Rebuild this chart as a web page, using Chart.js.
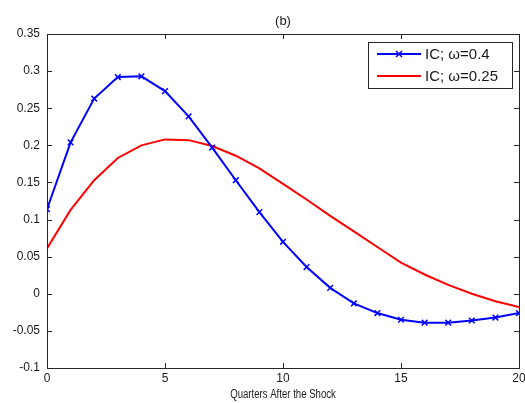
<!DOCTYPE html>
<html>
<head>
<meta charset="utf-8">
<script src="https://cdn.jsdelivr.net/npm/chart.js@4.4.1/dist/chart.umd.min.js"></script>
<style>
  html, body { margin: 0; padding: 0; background: #ffffff; }
  #wrap { width: 525px; height: 403px; position: relative; }
</style>
</head>
<body>
<div id="wrap"><canvas id="irf"></canvas></div>
<script>
  const quarters = [0, 1, 2, 3, 4, 5, 6, 7, 8, 9, 10, 11, 12, 13, 14, 15, 16, 17, 18, 19, 20];
  const icOmega04 = [0.114, 0.204, 0.263, 0.292, 0.293, 0.273, 0.239, 0.197, 0.153, 0.110, 0.070,
    0.036, 0.008, -0.013, -0.026, -0.035, -0.039, -0.039, -0.036, -0.032, -0.026];
  const icOmega025 = [0.061, 0.113, 0.153, 0.183, 0.200, 0.208, 0.207, 0.199, 0.186, 0.169, 0.148,
    0.127, 0.105, 0.084, 0.063, 0.042, 0.026, 0.012, 0.000, -0.010, -0.018];
  const seriesLabels = ["IC; \u03c9=0.4", "IC; \u03c9=0.25"];
  const xTicks = [0, 5, 10, 15, 20];
  const yTicks = [-0.1, -0.05, 0, 0.05, 0.1, 0.15, 0.2, 0.25, 0.3, 0.35];
  const panelTitle = "(b)";
  const xTitle = "Quarters After the Shock";

  const fontFamily = "Arial, 'Liberation Sans', sans-serif";

  // MATLAB-style box with inward ticks, title, x label and legend
  const boxPlugin = {
    id: "boxPlugin",
    afterDraw(chart) {
      const { ctx, chartArea: a, scales } = chart;
      const tick = 5;
      ctx.save();
      ctx.strokeStyle = "#262626";
      ctx.lineWidth = 1;
      ctx.strokeRect(a.left + 0.5, a.top + 0.5, a.right - a.left, a.bottom - a.top);
      ctx.beginPath();
      xTicks.forEach((v) => {
        const x = Math.round(scales.x.getPixelForValue(v)) + 0.5;
        ctx.moveTo(x, a.bottom); ctx.lineTo(x, a.bottom - tick);
        ctx.moveTo(x, a.top); ctx.lineTo(x, a.top + tick);
      });
      yTicks.forEach((v) => {
        const y = Math.round(scales.y.getPixelForValue(v)) + 0.5;
        ctx.moveTo(a.left, y); ctx.lineTo(a.left + tick, y);
        ctx.moveTo(a.right, y); ctx.lineTo(a.right - tick, y);
      });
      ctx.stroke();

      const cx = (a.left + a.right) / 2;
      ctx.fillStyle = "#1a1a1a";
      ctx.textAlign = "center";
      ctx.textBaseline = "middle";
      ctx.font = "13px " + fontFamily;
      ctx.fillText(panelTitle, cx, 21.5);

      // narrow x label
      ctx.save();
      ctx.translate(cx, 395);
      ctx.scale(0.8, 1);
      ctx.font = "12px " + fontFamily;
      ctx.fillText(xTitle, 0, 0);
      ctx.restore();

      // legend
      const lx = 368, ly = 42, lw = 144, lh = 46;
      ctx.fillStyle = "#ffffff";
      ctx.fillRect(lx, ly, lw, lh);
      ctx.strokeStyle = "#262626";
      ctx.lineWidth = 1;
      ctx.strokeRect(lx + 0.5, ly + 0.5, lw, lh);
      ctx.font = "15px " + fontFamily;
      ctx.textAlign = "left";
      chart.data.datasets.forEach((ds, i) => {
        const yy = ly + 12 + i * 22;
        ctx.strokeStyle = ds.borderColor;
        ctx.lineWidth = 2;
        ctx.beginPath();
        ctx.moveTo(lx + 9, yy); ctx.lineTo(lx + 53, yy);
        ctx.stroke();
        if (ds.pointRadius > 0) {
          const mx = lx + 31, r = 3;
          ctx.lineWidth = 1.5;
          ctx.beginPath();
          ctx.moveTo(mx - r, yy - r); ctx.lineTo(mx + r, yy + r);
          ctx.moveTo(mx - r, yy + r); ctx.lineTo(mx + r, yy - r);
          ctx.stroke();
        }
        ctx.fillStyle = "#1a1a1a";
        ctx.fillText(ds.label, lx + 57, yy + 1);
      });
      ctx.restore();
    }
  };

  new Chart(document.getElementById("irf"), {
    type: "line",
    data: {
      labels: quarters,
      datasets: [
        {
          label: seriesLabels[0],
          data: quarters.map((q, i) => ({ x: q, y: icOmega04[i] })),
          borderColor: "#0000ff",
          backgroundColor: "#0000ff",
          borderWidth: 2,
          pointStyle: "crossRot",
          pointRadius: 4,
          pointBorderWidth: 1.5,
          tension: 0
        },
        {
          label: seriesLabels[1],
          data: quarters.map((q, i) => ({ x: q, y: icOmega025[i] })),
          borderColor: "#ff0000",
          backgroundColor: "#ff0000",
          borderWidth: 2,
          pointRadius: 0,
          tension: 0
        }
      ]
    },
    options: {
      responsive: true,
      maintainAspectRatio: false,
      animation: false,
      layout: { padding: { left: 0, right: 0, top: 34, bottom: 0 } },
      plugins: {
        legend: { display: false },
        tooltip: { enabled: false },
        title: { display: false }
      },
      scales: {
        x: {
          type: "linear",
          min: 0,
          max: 20,
          afterBuildTicks(scale) {
            scale.ticks = xTicks.map((v) => ({ value: v }));
          },
          afterFit(scale) {
            scale.height = 35;
            scale.paddingRight = 6;
            scale.paddingLeft = 0;
          },
          grid: { display: false, drawTicks: false },
          border: { display: false },
          ticks: {
            color: "#1a1a1a",
            padding: 3,
            maxRotation: 0,
            font: { family: fontFamily, size: 12 }
          }
        },
        y: {
          min: -0.1,
          max: 0.35,
          afterBuildTicks(scale) {
            scale.ticks = yTicks.map((v) => ({ value: v }));
          },
          afterFit(scale) { scale.width = 47; },
          grid: { display: false, drawTicks: false },
          border: { display: false },
          ticks: {
            color: "#1a1a1a",
            padding: 7,
            font: { family: fontFamily, size: 12 },
            callback(value) {
              return String(Math.round(value * 100) / 100);
            }
          }
        }
      }
    },
    plugins: [boxPlugin]
  });
</script>
</body>
</html>
